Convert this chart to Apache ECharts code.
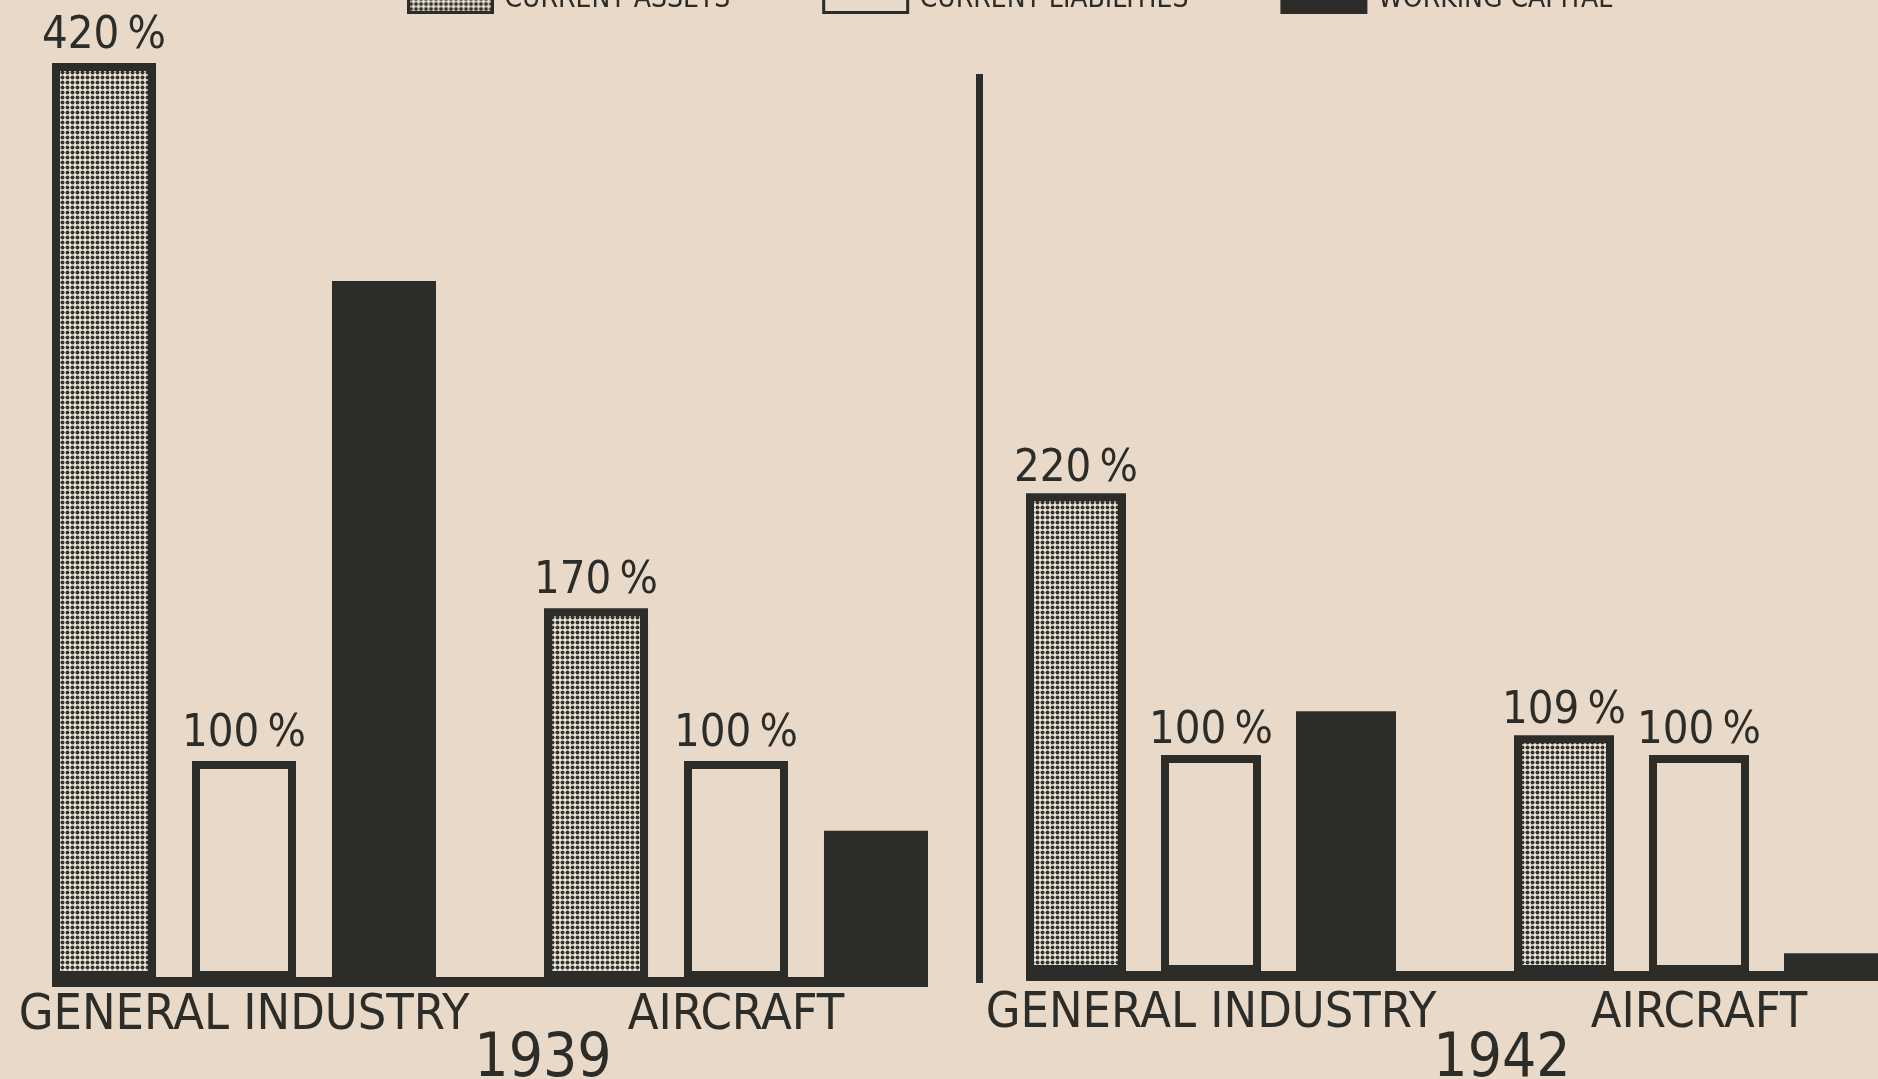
<!DOCTYPE html>
<html>
<head>
<meta charset="utf-8">
<title>Current assets, liabilities and working capital 1939 / 1942</title>
<script src="https://cdn.jsdelivr.net/npm/echarts@6/dist/echarts.min.js"></script>
<style>
  html, body { margin: 0; padding: 0; background: #e8d9c9; }
  #chart { width: 1878px; height: 1079px; }
</style>
</head>
<body>
<div id="chart"></div>
<script>
// data (percent of current liabilities)
const categories = ["GENERAL INDUSTRY", "AIRCRAFT"];
const years = ["1939", "1942"];
const seriesNames = ["CURRENT ASSETS", "CURRENT LIABILITIES", "WORKING CAPITAL"];
const currentAssets1939 = [420, 170];
const currentLiabilities1939 = [100, 100];
const workingCapital1939 = [320, 68];
const currentAssets1942 = [220, 109];
const currentLiabilities1942 = [100, 100];
const workingCapital1942 = [120, 9];

const INK = "#2c2c29";
const PAPER = "#e8d9c9";
const FONT = "'DejaVu Sans Condensed', 'DejaVu Sans', sans-serif";
const BORDER = 8;
// bar width / gap for each panel (border is drawn inside the bar)
const panels = [
  { bar: 104, gap: 36 },
  { bar: 100, gap: 35 }
];

// halftone screen used for current assets
function halftone() {
  const c = document.createElement("canvas");
  c.width = 5;
  c.height = 5;
  const ctx = c.getContext("2d");
  ctx.fillStyle = "#efe6db";
  ctx.fillRect(0, 0, 5, 5);
  ctx.fillStyle = "#34342f";
  ctx.beginPath();
  ctx.arc(2.5, 2.5, 2.0, 0, Math.PI * 2);
  ctx.fill();
  return c;
}
const screen = { image: halftone(), repeat: "repeat" };

function barSeries(name, data, idx, fill, showLabel) {
  return {
    name: name,
    type: "bar",
    xAxisIndex: idx,
    yAxisIndex: idx,
    data: data,
    clip: false,
    barWidth: panels[idx].bar,
    barGap: (panels[idx].gap / panels[idx].bar * 100).toFixed(1) + "%",
    itemStyle: { color: fill, borderColor: INK, borderWidth: BORDER },
    label: {
      show: showLabel,
      position: "top",
      distance: idx === 0 ? 4 : 1,
      formatter: "{c}\u2009%",
      color: INK,
      fontFamily: FONT,
      fontSize: 45
    },
    emphasis: { disabled: true }
  };
}

const chart = echarts.init(document.getElementById("chart"), null, { renderer: "canvas" });

chart.setOption({
  backgroundColor: PAPER,
  animation: false,
  legend: {
    left: 402,
    top: -20,
    itemWidth: 84,
    itemHeight: 26,
    itemGap: 92,
    icon: "rect",
    itemStyle: { borderWidth: 3, borderColor: INK },
    textStyle: { fontFamily: FONT, fontSize: 28, color: INK, padding: [0, 0, 0, 7] },
    data: seriesNames
  },
  // category centres sit on the grid edges (boundaryGap false)
  grid: [
    { left: 244, width: 492, top: 63, bottom: 100 },
    { left: 1211, width: 488, top: 57, bottom: 106 }
  ],
  xAxis: [0, 1].map(i => ({
    type: "category",
    gridIndex: i,
    data: categories,
    boundaryGap: false,
    axisLine: { show: false },
    axisTick: { show: false },
    splitLine: { show: false },
    axisLabel: {
      interval: 0,
      margin: i === 0 ? 12 : 16,
      color: INK,
      fontFamily: FONT,
      fontSize: 50
    }
  })),
  yAxis: [0, 1].map(i => ({
    type: "value",
    gridIndex: i,
    min: 0,
    max: 420,
    show: false,
    splitLine: { show: false }
  })),
  series: [
    barSeries(seriesNames[0], currentAssets1939, 0, screen, true),
    barSeries(seriesNames[1], currentLiabilities1939, 0, PAPER, true),
    barSeries(seriesNames[2], workingCapital1939, 0, INK, false),
    barSeries(seriesNames[0], currentAssets1942, 1, screen, true),
    barSeries(seriesNames[1], currentLiabilities1942, 1, PAPER, true),
    barSeries(seriesNames[2], workingCapital1942, 1, INK, false)
  ]
});

// baselines, divider and year captions placed from the axes
const graphics = [];
[0, 1].forEach(i => {
  const p = panels[i];
  const half = 1.5 * p.bar + p.gap;
  const x0 = chart.convertToPixel({ xAxisIndex: i }, categories[0]) - half;
  const x1 = chart.convertToPixel({ xAxisIndex: i }, categories[1]) + half;
  const y0 = chart.convertToPixel({ yAxisIndex: i }, 0);
  graphics.push({
    type: "rect",
    shape: { x: x0, y: y0 - 2, width: x1 - x0, height: 10 },
    style: { fill: INK },
    z: 10
  });
});
const yBase = chart.convertToPixel({ yAxisIndex: 0 }, 0);
graphics.push({
  type: "rect",
  shape: { x: 976, y: 74, width: 7, height: yBase + 4 - 74 },
  style: { fill: INK }
});
[543, 1502].forEach((cx, i) => {
  graphics.push({
    type: "text",
    x: cx,
    y: 1030,
    style: {
      text: years[i],
      fill: INK,
      font: "60px " + FONT,
      textAlign: "center",
      textVerticalAlign: "top"
    }
  });
});
chart.setOption({ graphic: graphics });
</script>
</body>
</html>
